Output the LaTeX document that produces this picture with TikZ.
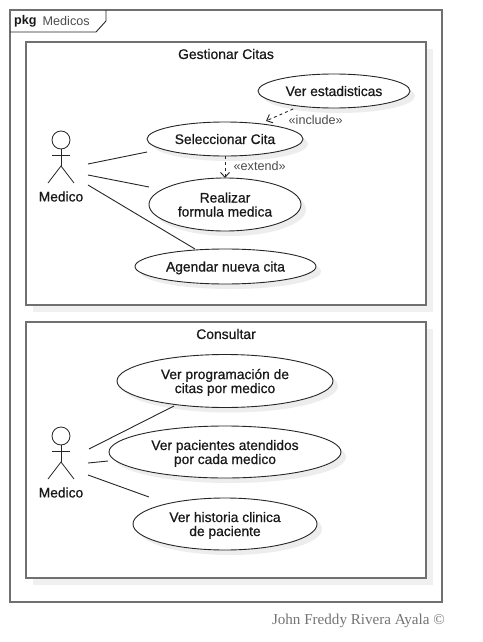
\documentclass[tikz,border=0pt]{standalone}
\usepackage{fontspec}
\setmainfont{Liberation Sans}
\newfontfamily\signfont{Liberation Serif}
\newfontfamily\casefont[FakeBold=0.7]{Liberation Sans}
\usetikzlibrary{shapes.geometric,shadows,arrows.meta}

\begin{document}
\begin{tikzpicture}[x=1pt,y=-1pt]
        \tikzstyle{frame} = [draw=black!56,line width=1.6pt,inner sep=0pt,outer sep=0pt]
        \tikzstyle{box} = [frame,fill=white,drop shadow={shadow xshift=7pt,shadow yshift=-7pt,fill=black!6,opacity=1}]
        \tikzstyle{casetext} = [font=\casefont\fontsize{13.8}{14}\selectfont,text=black!90,align=center]
        \tikzstyle{usecase} = [casetext,text depth=0pt,ellipse,draw=black!85,line width=0.9pt,fill=white,inner sep=0pt,outer sep=0pt,
            drop shadow={shadow xshift=5pt,shadow yshift=-5pt,fill=black!7,opacity=1}]
        \tikzstyle{title} = [font=\casefont\fontsize{13.9}{14}\selectfont,text=black!90]
        \tikzstyle{note} = [font=\fontsize{12.6}{14}\selectfont,text=black!70]
        \tikzstyle{assoc} = [black!85,line width=0.9pt]
        \tikzstyle{dep} = [black!85,line width=0.9pt,dashed,-{Straight Barb[length=5pt,width=9pt]}]
        \tikzstyle{stick} = [black!85,line width=0.8pt]

        \useasboundingbox (0,0) rectangle (482,642);

        % frames
        \node [frame,fill=white,minimum width=432pt,minimum height=592pt] (medicos) at (226,306) {};
        \node [box,minimum width=400pt,minimum height=263pt] (gestionar) at (226,173.5) {};
        \node [box,minimum width=400pt,minimum height=256pt] (consultar) at (226,450) {};
        \coordinate (tabA) at (106,10);
        \coordinate (tabB) at (106,21);
        \coordinate (tabC) at (96,32);
        \coordinate (tabD) at (10,32);
        \draw [black!85,line width=0.9pt] (tabA) -- (tabB) -- (tabC) -- (tabD);
        \node [note,anchor=west,text=black!90,inner sep=0pt] (pkg) at (14,21) {\bfseries pkg};
        \node [note,anchor=west,inner sep=0pt] (pkgname) at (42.5,21) {Medicos};
        \node [title] (gestionarT) at (226,54) {Gestionar Citas};
        \node [title] (consultarT) at (226,334) {Consultar};

        % use cases
        \node [usecase,minimum width=152pt,minimum height=34pt] (estadisticas) at (334,91) {Ver estadisticas};
        \node [usecase,minimum width=156pt,minimum height=34pt] (seleccionar) at (225,139) {Seleccionar Cita};
        \node [usecase,minimum width=152pt,minimum height=53pt] (realizar) at (225,204.5) {Realizar\\formula medica};
        \node [usecase,minimum width=181pt,minimum height=35pt] (agendar) at (225.5,266.5) {Agendar nueva cita};
        \node [usecase,minimum width=216pt,minimum height=53pt] (programacion) at (225,381) {Ver programación de\\citas por medico};
        \node [usecase,minimum width=232pt,minimum height=52pt] (pacientes) at (225,452) {Ver pacientes atendidos\\por cada medico};
        \node [usecase,minimum width=184pt,minimum height=52pt] (historia) at (225,524) {Ver historia clinica\\de paciente};

        \draw [dep,shorten <=7pt,shorten >=7pt] (estadisticas) -- (seleccionar);
        \draw [dep] (seleccionar) -- (realizar);
        \node [note,anchor=west,inner sep=0pt] (includeL) at (288.5,120) {«include»};
        \node [note,anchor=west,inner sep=0pt] (extendL) at (233.5,166) {«extend»};

        % actors
        \foreach \n/\y in {top/140,bot/436} {
            \node [circle,draw=black!85,line width=0.8pt,minimum size=18pt,inner sep=0pt,outer sep=0pt] (head\n) at (61,\y) {};
            \coordinate (hip\n) at (61,\y+26);
            \coordinate (armL\n) at (52,\y+15);
            \coordinate (armR\n) at (70,\y+15);
            \coordinate (legL\n) at (48,\y+43);
            \coordinate (legR\n) at (74,\y+43);
            \draw [stick] (head\n) -- (hip\n);
            \draw [stick] (armL\n) -- (armR\n);
            \draw [stick] (legL\n) -- (hip\n) -- (legR\n);
            \node [casetext] (label\n) at (61,\y+56.5) {Medico};
        }

        % associations
        \coordinate (topA) at (88,164);
        \coordinate (topB) at (88,175);
        \coordinate (topC) at (88,185);
        \coordinate (seleccionarE) at (147,152);
        \coordinate (realizarE) at (149,187);
        \coordinate (agendarE) at (195,249);
        \draw [assoc] (topA) -- (seleccionarE);
        \draw [assoc] (topB) -- (realizarE);
        \draw [assoc] (topC) -- (agendarE);
        \coordinate (botA) at (89,449);
        \coordinate (botB) at (88,463);
        \coordinate (botC) at (88,475);
        \coordinate (programacionE) at (174,406);
        \coordinate (pacientesE) at (108,461);
        \coordinate (historiaE) at (149,497);
        \draw [assoc] (botA) -- (programacionE);
        \draw [assoc] (botB) -- (pacientesE);
        \draw [assoc] (botC) -- (historiaE);

        \node [font=\signfont\fontsize{15.1}{15}\selectfont,text=black!55,anchor=east,inner sep=0pt] (sign) at (445,621) {John Freddy Rivera Ayala ©};
    \end{tikzpicture}
\end{document}
